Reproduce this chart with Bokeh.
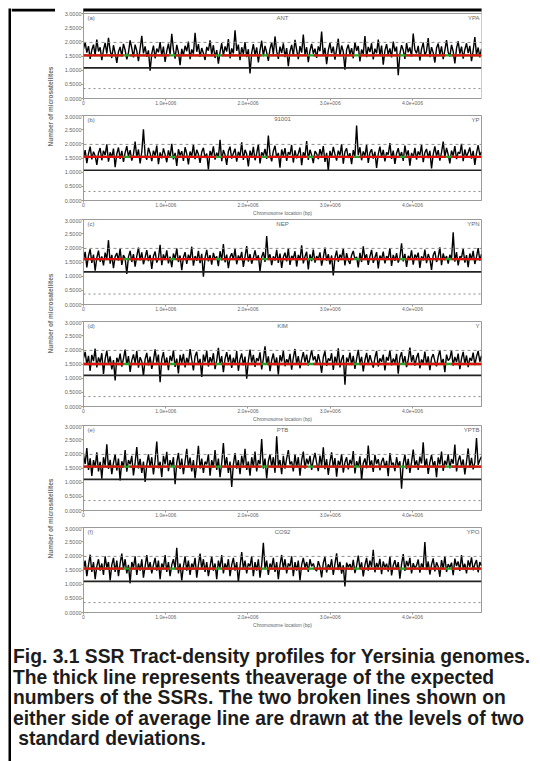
import numpy as np
from bokeh.plotting import figure
from bokeh.models import Range1d, FixedTicker, Span, Label, Div, BoxAnnotation
from bokeh.layouts import column, row
from bokeh.embed import file_html
from bokeh.resources import INLINE

# ---------------- data ----------------
genome_length = 4.84e6
xtick_vals = [0, 1e6, 2e6, 3e6, 4e6]
xtick_labels = ["0", "1.0e+006", "2.0e+006", "3.0e+006", "4.0e+006"]
ytick_vals = [0, 50, 100, 150, 200, 250, 300]
ytick_labels = ["0.0000", "0.5000", "1.0000", "1.5000", "2.0000", "2.5000", "3.0000"]

panel_left = ["(a)", "(b)", "(c)", "(d)", "(e)", "(f)"]
panel_center = ["ANT", "91001", "NEP", "KIM", "PTB", "CO92"]
panel_right = ["YPA", "YP", "YPN", "Y", "YPTB", "YPO"]

mean_level = [152, 154, 160, 150, 155, 155]
upper_sd = [198, 198, 198, 198, 198, 198]
base_level = [108, 107, 115, 110, 110, 110]
lower_sd = [35, 32, 37, 35, 35, 35]

p1 = [175,198,162,185,140,171,190,152,208,166,181,135,172,196,158,214,170,143,188,160,
      126,165,182,149,193,171,138,162,205,178,145,190,168,132,176,221,159,184,147,170,
      98,158,187,142,176,163,199,151,183,129,167,194,156,228,172,141,189,163,118,175,
      152,186,167,201,139,173,158,232,165,192,147,178,160,136,182,169,205,154,188,143,
      171,123,164,195,150,184,166,210,142,177,159,241,168,190,135,181,157,199,146,174,
      88,161,192,153,180,127,170,204,149,186,163,133,175,198,156,219,167,140,183,160,
      195,146,178,114,166,189,151,207,172,139,185,162,226,154,181,128,169,193,158,176,
      143,184,167,236,152,179,121,170,196,160,183,137,174,211,149,187,165,102,172,190,
      156,178,142,199,168,185,131,173,157,220,146,182,164,195,138,176,160,208,151,187,
      119,169,192,154,177,145,201,166,183,82,158,188,171,140,196,163,180,148,229,172,
      159,186,134,175,197,152,168,213,146,181,162,127,178,194,155,184,139,171,206,163,
      148,189,166,124,177,202,158,183,141,173,195,160,186,132,169,217,154,180,145,176]
p2 = [150,178,132,165,190,145,172,158,126,168,185,142,176,160,198,137,170,152,183,118,
      164,187,147,175,136,169,192,155,178,141,163,208,152,180,131,172,251,160,144,186,
      167,139,176,158,194,128,170,149,184,162,135,177,153,200,145,168,122,181,159,174,
      140,188,165,127,173,156,197,146,179,163,133,171,186,150,166,110,175,158,191,144,
      169,152,214,139,178,161,126,174,190,148,167,183,137,172,157,205,143,179,164,120,
      176,154,189,142,166,198,131,170,158,182,147,229,161,138,175,193,151,168,116,180,
      157,185,140,171,162,196,134,177,149,166,187,125,170,155,210,143,179,160,132,174,
      165,146,181,158,192,136,168,104,175,152,189,163,141,176,159,199,130,172,184,150,
      167,128,178,155,265,160,188,142,173,157,196,133,169,181,148,172,115,164,190,153,
      179,138,170,162,203,147,176,129,166,185,152,171,140,194,158,177,123,168,151,186,
      144,173,160,197,135,169,182,150,175,113,163,191,156,178,141,170,208,153,186,162,
      131,176,158,192,146,171,165,200,139,180,154,169,187,148,175,126,167,195,159,172]
p3 = [158,186,131,172,195,147,176,119,165,190,151,170,138,183,160,227,144,175,128,169,
      182,155,197,140,174,163,108,168,189,150,178,134,171,201,156,184,142,166,192,153,
      175,126,170,187,148,163,211,139,177,158,191,145,169,132,180,161,198,150,173,121,
      166,185,143,176,159,204,137,171,154,189,146,179,98,165,193,152,174,141,182,160,
      170,135,188,156,213,149,176,128,167,181,158,196,142,173,160,186,133,169,206,151,
      178,144,165,191,157,174,118,168,185,150,242,161,177,139,170,155,193,147,180,129,
      167,183,152,198,140,172,163,188,134,175,158,209,145,169,186,124,177,153,194,148,
      171,160,184,137,166,201,155,178,142,173,103,165,190,151,176,164,197,138,181,156,
      143,174,189,159,168,131,182,150,205,162,177,140,170,193,147,166,185,127,173,158,
      187,145,171,163,199,136,175,154,181,148,167,216,152,179,133,172,160,191,141,176,
      164,183,129,170,156,194,146,178,161,122,174,188,150,167,202,139,180,157,171,144,
      176,160,255,151,185,138,170,166,196,148,174,132,180,159,189,143,168,199,155,178]
p4 = [170,193,148,179,126,182,160,204,138,173,155,188,115,168,197,150,177,131,164,92,
      172,156,187,141,169,201,147,178,122,163,184,152,196,137,174,159,108,167,189,145,
      176,133,162,202,155,183,86,168,192,146,173,128,179,160,198,140,169,117,182,154,
      186,138,172,151,203,165,127,177,193,147,168,104,183,158,197,141,174,155,188,132,
      163,207,150,178,121,169,192,157,183,136,172,149,196,126,167,187,145,176,98,161,
      201,155,182,140,171,160,191,131,168,212,149,177,125,164,187,146,173,113,181,159,
      196,142,167,154,186,130,172,203,150,178,135,166,192,156,183,144,171,199,163,177,
      148,185,158,119,174,195,143,170,161,188,129,176,152,205,138,167,182,77,173,157,
      190,146,179,133,168,200,153,175,124,164,189,149,181,160,137,172,196,141,170,158,
      183,127,175,162,198,145,169,154,186,116,173,192,150,178,139,165,208,157,181,144,
      172,189,135,166,153,194,147,177,128,171,185,160,142,176,199,151,168,121,183,162,
      170,198,144,175,157,187,132,169,193,150,180,139,172,161,190,146,176,196,158,179]
p5 = [195,164,220,143,184,122,178,153,205,138,172,112,188,158,234,147,179,128,168,199,
      141,183,106,174,152,213,137,178,163,193,124,169,224,148,182,133,173,101,162,198,
      153,188,127,177,243,149,172,118,193,163,207,139,178,154,188,93,168,203,147,183,
      128,173,218,153,187,138,178,113,168,228,148,183,133,173,163,198,123,178,153,213,
      143,183,118,168,238,153,188,133,173,83,163,203,148,178,128,193,158,218,143,173,
      123,188,153,208,138,178,163,252,148,183,113,173,198,153,188,133,262,158,178,128,
      193,148,183,213,163,173,138,198,153,188,123,178,208,148,183,163,193,143,178,203,
      168,139,194,157,223,146,181,126,172,205,151,185,119,176,160,199,134,170,188,145,
      179,162,210,131,174,153,191,108,167,184,149,229,158,177,136,196,164,181,142,172,
      186,150,175,121,203,161,169,139,188,155,174,77,165,197,146,182,133,171,215,159,
      177,143,190,166,241,152,183,129,170,196,157,174,118,187,163,208,140,176,160,198,
      149,182,165,233,138,175,194,156,180,127,172,219,151,186,145,170,256,161,178,190]
p6 = [155,183,128,168,204,143,178,118,163,188,148,173,133,198,158,178,113,168,193,143,
      183,128,173,208,153,188,138,168,103,178,158,198,133,173,148,188,123,163,203,153,
      178,138,168,193,148,183,118,173,158,203,143,178,128,168,188,153,228,138,173,113,
      163,198,148,183,133,173,158,193,123,168,208,153,188,143,178,128,163,198,148,173,
      118,183,158,203,138,173,153,188,128,168,193,148,178,108,163,213,153,183,138,173,
      163,198,128,178,148,188,123,168,246,153,183,133,173,158,193,143,178,118,168,203,
      153,188,138,173,163,198,128,178,148,183,113,168,193,158,178,143,188,163,173,153,
      146,181,162,124,175,196,141,170,157,188,133,172,209,150,179,137,167,92,176,160,
      171,150,186,139,165,201,154,177,127,168,193,148,183,160,221,142,175,158,189,135,
      180,159,172,144,197,131,166,185,152,178,119,170,206,147,182,163,193,138,174,156,
      166,187,141,173,158,249,150,180,134,169,191,145,177,162,126,185,154,198,143,171,
      159,176,132,190,164,180,147,203,155,172,138,184,161,195,149,170,185,142,178,165]
series = [p1, p2, p3, p4, p5, p6]

x_title = "Chromosome location (bp)"
y_title = "Number of microsatellites"
caption_lines = [
    "Fig. 3.1 SSR Tract-density profiles for Yersinia genomes.",
    "The thick line represents theaverage of the expected",
    "numbers of the SSRs. The two broken lines shown on",
    "either side of average line are drawn at the levels of two",
    "&nbsp;standard deviations.",
]

# ---------------- figures ----------------
FONT = "Liberation Sans"
GRAY = "#9a9a9a"
DATA_PX = 85                      # frame pixels for the 0..300 data span
UNIT = 300.0 / DATA_PX            # data units per pixel (vertical)
XPX = genome_length / 398.0       # data units per pixel (horizontal)


def blank(w, h, fill):
    f = figure(width=w, height=h, min_border=0, title=None, output_backend="svg",
               toolbar_location=None, x_range=Range1d(0, 1), y_range=Range1d(0, 1))
    f.axis.visible = False
    f.grid.visible = False
    f.outline_line_color = None
    f.background_fill_color = fill
    f.border_fill_color = fill
    return f


figs = []
for i in range(6):
    vals = series[i]
    first = (i == 0)
    # the first panel also carries the top rule of the figure box in its upper 3px
    fh = DATA_PX + 5 if first else DATA_PX
    ytop = 300 + 5 * UNIT if first else 300
    p = figure(frame_width=398, frame_height=fh,
               min_border_left=28, min_border_right=59 if first else 6,
               min_border_top=0 if first else 1, min_border_bottom=16,
               x_range=Range1d(0, genome_length), y_range=Range1d(0, ytop),
               output_backend="svg", toolbar_location=None)
    p.grid.visible = False
    p.background_fill_color = "white"
    p.border_fill_color = "white"
    if first:
        p.outline_line_color = None
        p.add_layout(Span(location=300, dimension="width", line_color=GRAY, line_width=1))
        p.add_layout(Span(location=genome_length, dimension="height", line_color=GRAY,
                          line_width=1))
    else:
        p.outline_line_color = GRAY

    for ax in (p.xaxis[0], p.yaxis[0]):
        ax.axis_line_color = GRAY
        ax.major_tick_line_color = GRAY
        ax.minor_tick_line_color = None
        ax.major_tick_out = 2
        ax.major_tick_in = 0
        ax.major_label_standoff = 0
        ax.major_label_text_font = FONT
        ax.major_label_text_font_size = "5px"
        ax.major_label_text_color = "#666666"
    p.yaxis.major_label_text_font_size = "5.5px"
    p.xaxis.ticker = FixedTicker(ticks=xtick_vals)
    p.xaxis.major_label_overrides = {v: s for v, s in zip(xtick_vals, xtick_labels)}
    p.yaxis.ticker = FixedTicker(ticks=ytick_vals)
    p.yaxis.major_label_overrides = {v: s for v, s in zip(ytick_vals, ytick_labels)}
    if i % 2 == 1:
        p.xaxis.axis_label = x_title
        p.xaxis.axis_label_text_font = FONT
        p.xaxis.axis_label_text_font_size = "5px"
        p.xaxis.axis_label_text_font_style = "normal"
        p.xaxis.axis_label_text_color = "#666666"
        p.xaxis.axis_label_standoff = 0

    xs = np.arange(len(vals)) * (genome_length / (len(vals) - 1))
    p.line(xs, vals, line_color="black", line_width=1.4)

    p.add_layout(Span(location=upper_sd[i], dimension="width", line_color="#8c8c8c",
                      line_dash="3 3", line_width=1))
    p.add_layout(Span(location=lower_sd[i], dimension="width", line_color="#8c8c8c",
                      line_dash="2 3", line_width=1))
    p.add_layout(Span(location=base_level[i], dimension="width", line_color="#222222",
                      line_width=1.6))
    p.add_layout(Span(location=mean_level[i], dimension="width", line_color="#2ca02c",
                      line_width=2.3))
    p.add_layout(Span(location=mean_level[i], dimension="width", line_color="#e01010",
                      line_dash="40 6", line_width=2.3))

    for txt, xpos, align in ((panel_left[i], 0.01, "left"),
                             (panel_center[i], 0.5, "center"),
                             (panel_right[i], 0.995, "right")):
        p.add_layout(Label(x=xpos * genome_length, y=296, text=txt, text_align=align,
                           text_baseline="top", text_font=FONT, text_font_size="6px",
                           text_color="#666666"))
    if first:
        # black top rule across the whole width of the canvas (frame box + margins)
        p.add_layout(BoxAnnotation(left=-40 * XPX, right=480 * XPX,
                                   bottom=300 + 2 * UNIT, top=300 + 8 * UNIT,
                                   fill_color="#000000", fill_alpha=1.0,
                                   line_alpha=0, level="overlay"))
    figs.append(p)

plots = column(*figs, spacing=0)

# y-axis titles, one per pair of panels, in a text-only strip (pixel coordinates)
YSTRIP_H = 623
ystrip = figure(width=44, height=YSTRIP_H, x_range=Range1d(0, 44), y_range=Range1d(YSTRIP_H, 0),
                min_border=0, title=None, output_backend="svg", toolbar_location=None)
ystrip.axis.visible = False
ystrip.grid.visible = False
ystrip.outline_line_color = None
ystrip.border_fill_color = "white"
ystrip.quad(left=[0], right=[44], top=[0], bottom=[3], fill_color="#000000", line_alpha=0)
for yc in (98, 305, 510):
    ystrip.add_layout(Label(x=39, y=yc, text=y_title, angle=np.pi / 2, text_align="center",
                            text_baseline="middle", text_font=FONT, text_font_style="bold",
                            text_font_size="6.5px", text_color="#707070"))

caption_html = ('<div style="font-family:\'Liberation Sans\';font-weight:bold;font-size:19.3px;'
                'line-height:20.5px;color:#1c1c1c;white-space:nowrap;">'
                + "<br>".join(caption_lines) + '</div>')
caption = Div(text=caption_html, width=527, margin=(16, 0, 0, 2))

left_bar = blank(3, 753, "#000000")

content = column(row(ystrip, plots, spacing=0), caption, spacing=0)
layout = row(left_bar, content, spacing=0, margin=(8, 0, 0, 8))

open("out.html", "w").write(file_html(layout, INLINE))
